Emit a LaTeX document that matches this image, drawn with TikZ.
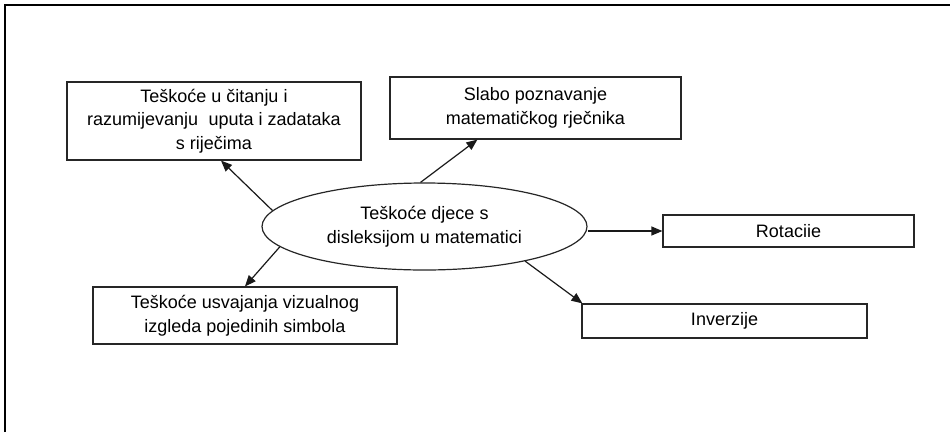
\documentclass[tikz,border=0pt]{standalone}
\usepackage{fontspec}
\setmainfont{Liberation Sans}
\usetikzlibrary{shapes.geometric,arrows.meta,calc}
\begin{document}
\begin{tikzpicture}[x=1pt,y=-1pt,
  box/.style={draw=black!85,line width=1.2pt,rectangle,inner sep=0pt,align=center,
    font=\fontsize{18}{23.5}\selectfont},
  oval/.style={draw=black!85,line width=1.2pt,ellipse,inner sep=0pt,align=center,
    minimum width=325pt,minimum height=87pt,font=\fontsize{18}{23.5}\selectfont},
  arr/.style={line width=1.2pt,draw=black!90,-{Triangle[length=11pt,width=9pt]}}]
\useasboundingbox (0,0) rectangle (950,432);
\draw[line width=2.2pt] (5,432) -- (5,5) -- (950,5);
\node[oval] (el) at (424.5,226.5) {Teškoće djece s\\disleksijom u matematici};
\node[box,minimum width=294pt,minimum height=78pt] (b1) at (214,121)
  {Teškoće u čitanju i\\razumijevanju\hspace{0.3em} uputa i zadataka\\s riječima};
\node[box,minimum width=291pt,minimum height=62pt] (b2) at (535.5,108)
  {Slabo poznavanje\\matematičkog rječnika};
\node[box,minimum width=251pt,minimum height=32pt] (b3) at (788.5,231) {Rotaciie};
\node[box,minimum width=285pt,minimum height=34pt] (b4) at (724.5,321) {Inverzije};
\node[box,minimum width=304pt,minimum height=57pt] (b5) at (245,315.5)
  {Teškoće usvajanja vizualnog\\izgleda pojedinih simbola};
\draw[arr] (el.174) -- ($(b1.south)+(7,0)$);
\draw[arr] ($(el.north)+(-4,0)$) -- ($(b2.south west)+(88,0)$);
\draw[arr] (el.east |- b3.west) -- (b3.west);
\draw[arr] (el.-19) -- ($(b4.north west)+(1,0)$);
\draw[arr] (el.188) -- (b5.north);
\end{tikzpicture}
\end{document}
